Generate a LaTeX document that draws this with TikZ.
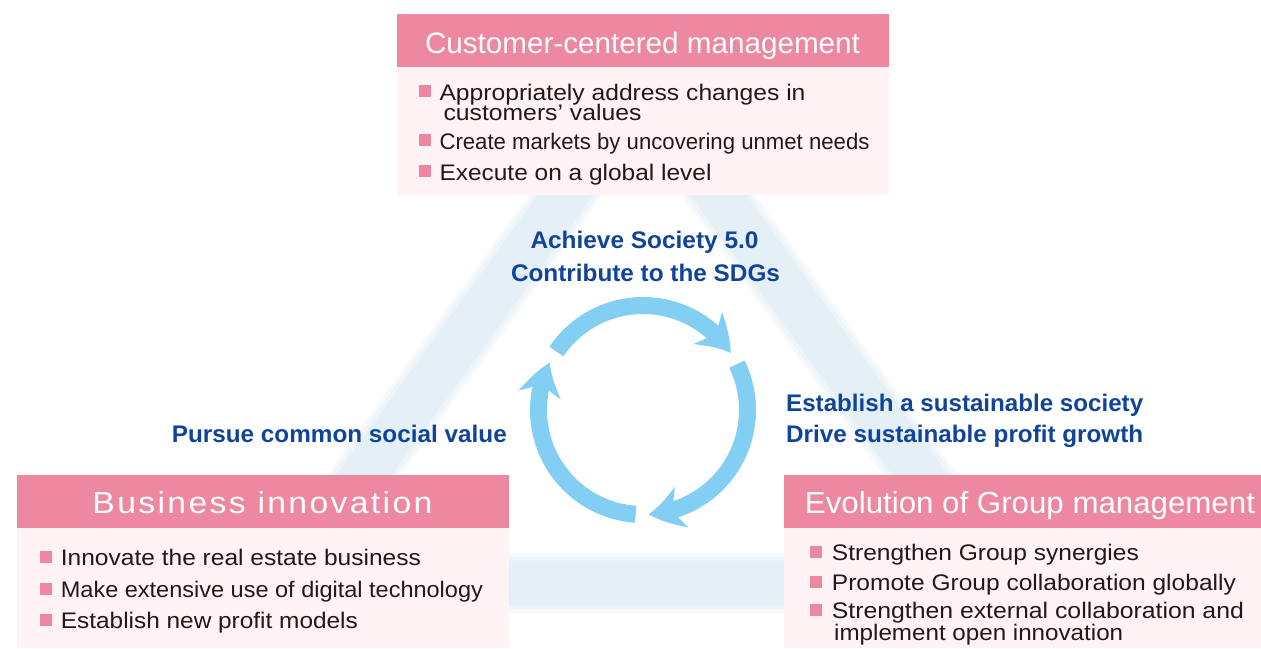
\documentclass[tikz,border=0pt]{standalone}
\usepackage{graphicx}
\usepackage{fontspec}
\setmainfont{Liberation Sans}
\newfontfamily\spacedfont[LetterSpace=7]{Liberation Sans}
\usetikzlibrary{arrows.meta,bending}
\definecolor{hdrpink}{HTML}{EE87A0}
\definecolor{bodypink}{HTML}{FFF3F6}
\definecolor{txtblue}{HTML}{10449A}
\definecolor{txtdark}{HTML}{231815}
\definecolor{arrowblue}{HTML}{82CFF3}
\definecolor{bandblue}{HTML}{E4EFF6}
\newcommand{\fitw}[2]{\resizebox{#1pt}{\height}{#2}}
\begin{document}
\begin{tikzpicture}[x=1pt,y=-1pt,
  hdrbox/.style={fill=hdrpink, draw=none, inner sep=0pt, anchor=north west},
  bodybox/.style={fill=bodypink, draw=none, inner sep=0pt, anchor=north west},
  hdrtxt/.style={font=\fontsize{29.5}{34}\selectfont, text=white, inner sep=0pt, anchor=base},
  itemtxt/.style={font=\fontsize{22.5}{27}\selectfont, text=txtdark, inner sep=0pt, anchor=base west},
  bul/.style={fill=hdrpink, draw=none, minimum size=12pt, inner sep=0pt},
  bluetxt/.style={font=\bfseries\fontsize{24}{28}\selectfont, text=txtblue, inner sep=0pt},
  band/.style={line join=miter},
  arr/.style={draw=arrowblue, line width=17pt, -{Stealth[length=34pt,width=42pt,inset=10pt,bend]}}
]
\useasboundingbox (0,0) rectangle (1261,648);
\fill[white] (0,0) rectangle (1261,648);

% background triangle band
\draw[band, draw=bandblue!30!white, line width=60pt] (642,89) -- (998,583) -- (286,583) -- cycle;
\draw[band, draw=bandblue!65!white, line width=53pt] (642,89) -- (998,583) -- (286,583) -- cycle;
\draw[band, draw=bandblue, line width=45pt] (642,89) -- (998,583) -- (286,583) -- cycle;

% top box
\node[hdrbox, minimum width=492pt, minimum height=53pt] (tophdr) at (397,14) {};
\node[bodybox, minimum width=492pt, minimum height=128pt] (topbody) at (397,67) {};
\node[hdrtxt] (tophdrtxt) at (642.5,53) {\fitw{435}{Customer-centered management}};
\node[bul] (tb1) at (425,91) {};
\node[itemtxt] (tt1) at (439.3,100) {\fitw{366}{Appropriately address changes in}};
\node[itemtxt] (tt1b) at (443.3,120) {\fitw{198}{customers’ values}};
\node[bul] (tb2) at (425,140) {};
\node[itemtxt] (tt2) at (439.3,149) {\fitw{430}{Create markets by uncovering unmet needs}};
\node[bul] (tb3) at (425,171) {};
\node[itemtxt] (tt3) at (439.3,180) {\fitw{272}{Execute on a global level}};

% left box
\node[hdrbox, minimum width=492pt, minimum height=53pt] (lefthdr) at (17,475) {};
\node[bodybox, minimum width=492pt, minimum height=120pt] (leftbody) at (17,528) {};
\node[hdrtxt, font=\spacedfont\fontsize{30.5}{34}\selectfont] (lefthdrtxt) at (262.5,513) {\fitw{340}{Business innovation}};
\node[bul] (lb1) at (45.5,557) {};
\node[itemtxt] (lt1) at (60.7,565) {\fitw{360}{Innovate the real estate business}};
\node[bul] (lb2) at (45.5,589) {};
\node[itemtxt] (lt2) at (60.7,597) {\fitw{422}{Make extensive use of digital technology}};
\node[bul] (lb3) at (45.5,620) {};
\node[itemtxt] (lt3) at (60.7,628) {\fitw{297}{Establish new profit models}};

% right box
\node[hdrbox, minimum width=477pt, minimum height=53pt] (righthdr) at (784,475) {};
\node[bodybox, minimum width=477pt, minimum height=120pt] (rightbody) at (784,528) {};
\node[hdrtxt, font=\fontsize{30.5}{34}\selectfont] (righthdrtxt) at (1030,513) {\fitw{450}{Evolution of Group management}};
\node[bul] (rb1) at (816,552) {};
\node[itemtxt] (rt1) at (831.7,560) {\fitw{307}{Strengthen Group synergies}};
\node[bul] (rb2) at (816,582) {};
\node[itemtxt] (rt2) at (831.7,590) {\fitw{404}{Promote Group collaboration globally}};
\node[bul] (rb3) at (816,610) {};
\node[itemtxt] (rt3) at (831.7,618) {\fitw{412}{Strengthen external collaboration and}};
\node[itemtxt] (rt3b) at (834,640) {\fitw{289}{implement open innovation}};

% cycle arrows
\coordinate (cc) at (643,410);
\draw[arr] ([shift={(-146:104.5)}]cc) arc[start angle=-146, end angle=-33, radius=104.5];
\draw[arr] ([shift={(-26:104.5)}]cc) arc[start angle=-26, end angle=87, radius=104.5];
\draw[arr] ([shift={(94:104.5)}]cc) arc[start angle=94, end angle=207, radius=104.5];

% blue texts
\node[bluetxt, anchor=base] (ach) at (644.5,248) {\fitw{228}{Achieve Society 5.0}};
\node[bluetxt, anchor=base] (sdg) at (645.5,281) {\fitw{269}{Contribute to the SDGs}};
\node[bluetxt, anchor=base west] (est) at (786,411) {\fitw{357}{Establish a sustainable society}};
\node[bluetxt, anchor=base west] (drv) at (786,442) {\fitw{357}{Drive sustainable profit growth}};
\node[bluetxt, anchor=base east] (pur) at (507,442) {\fitw{335}{Pursue common social value}};
\end{tikzpicture}
\end{document}
